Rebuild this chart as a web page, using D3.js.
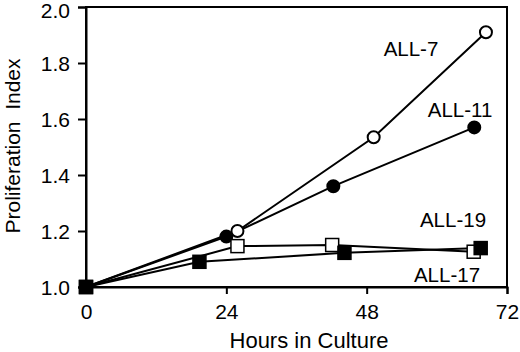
<!DOCTYPE html>
<html>
<head>
<meta charset="utf-8">
<script src="https://cdn.jsdelivr.net/npm/d3@7"></script>
<style>
  body { margin: 0; background: #fff; }
  text { font-family: "Liberation Sans", Arial, sans-serif; fill: #000; }
</style>
</head>
<body>
<svg id="chart" width="520" height="352"></svg>
<script>
const width = 520
const height = 352
const margin = { top: 7, right: 13, bottom: 65, left: 86 }

// values
const xTicks = [0, 24, 48, 72]
const yTicks = [1.0, 1.2, 1.4, 1.6, 1.8, 2.0]

const all7Hours = [0, 25.9, 49.2, 68.4]
const all7Index = [1.0, 1.20, 1.535, 1.91]
const all11Hours = [0, 24, 42.3, 66.4]
const all11Index = [1.0, 1.18, 1.36, 1.57]
const all19Hours = [0, 25.9, 42.1, 66.3]
const all19Index = [1.0, 1.146, 1.15, 1.126]
const all17Hours = [0, 19.4, 44.2, 67.5]
const all17Index = [1.0, 1.09, 1.122, 1.139]

const series = [
  { name: 'ALL-7', hours: all7Hours, index: all7Index, shape: 'circle', fill: '#fff', label: [411, 56] },
  { name: 'ALL-11', hours: all11Hours, index: all11Index, shape: 'circle', fill: '#000', label: [460, 117] },
  { name: 'ALL-19', hours: all19Hours, index: all19Index, shape: 'square', fill: '#fff', label: [453, 227] },
  { name: 'ALL-17', hours: all17Hours, index: all17Index, shape: 'square', fill: '#000', label: [447, 282] }
]

const svg = d3.select('#chart')

const x = d3.scaleLinear().domain([0, 72]).range([margin.left, width - margin.right])
const y = d3.scaleLinear().domain([1.0, 2.0]).range([height - margin.bottom, margin.top])

// frame
svg.append('rect')
  .attr('x', x(0))
  .attr('y', y(2.0))
  .attr('width', x(72) - x(0))
  .attr('height', y(1.0) - y(2.0))
  .attr('fill', 'none')
  .attr('stroke', '#000')
  .attr('stroke-width', 2)

// x axis
const xAxis = svg.append('g')
  .attr('transform', `translate(0, ${y(1.0)})`)
  .call(d3.axisBottom(x).tickValues(xTicks).tickSize(7).tickPadding(10).tickFormat(d3.format('d')))
xAxis.select('.domain').attr('stroke-width', 2)
xAxis.selectAll('.tick line').attr('stroke-width', 2)
xAxis.selectAll('text').style('font-size', '21px')

// y axis
const yAxis = svg.append('g')
  .attr('transform', `translate(${x(0)}, 0)`)
  .call(d3.axisLeft(y).tickValues(yTicks).tickSize(8).tickPadding(8).tickFormat(d3.format('.1f')))
yAxis.select('.domain').attr('stroke-width', 2)
yAxis.selectAll('.tick line').attr('stroke-width', 2)
yAxis.selectAll('text')
  .style('font-size', '21px')
  .attr('dy', d => d === 2.0 ? '0.5em' : '0.38em') // top label sits a bit lower so it is not clipped

// axis titles
svg.append('text')
  .attr('x', 309)
  .attr('y', 348)
  .attr('text-anchor', 'middle')
  .style('font-size', '22px')
  .text('Hours in Culture')

svg.append('text')
  .attr('transform', 'translate(20, 146) rotate(-90)')
  .attr('text-anchor', 'middle')
  .style('font-size', '21px')
  .style('white-space', 'pre')
  .text('Proliferation  Index')

const line = d3.line()
  .x(d => x(d[0]))
  .y(d => y(d[1]))

series.forEach(s => {
  const pts = s.hours.map((h, i) => [h, s.index[i]])
  svg.append('path')
    .attr('d', line(pts))
    .attr('fill', 'none')
    .attr('stroke', '#000')
    .attr('stroke-width', 2)
  s.pts = pts
})

series.forEach(s => {
  const g = svg.append('g')
  if (s.shape === 'circle') {
    g.selectAll('circle')
      .data(s.pts)
      .enter()
      .append('circle')
      .attr('cx', d => x(d[0]))
      .attr('cy', d => y(d[1]))
      .attr('r', 6)
      .attr('fill', s.fill)
      .attr('stroke', '#000')
      .attr('stroke-width', 2)
  } else {
    g.selectAll('rect')
      .data(s.pts)
      .enter()
      .append('rect')
      .attr('x', d => x(d[0]) - 6.5)
      .attr('y', d => y(d[1]) - 6.5)
      .attr('width', 13)
      .attr('height', 13)
      .attr('fill', s.fill)
      .attr('stroke', '#000')
      .attr('stroke-width', 1.5)
  }
  svg.append('text')
    .attr('x', s.label[0])
    .attr('y', s.label[1])
    .attr('text-anchor', 'middle')
    .style('font-size', '20.5px')
    .text(s.name)
})
</script>
</body>
</html>
